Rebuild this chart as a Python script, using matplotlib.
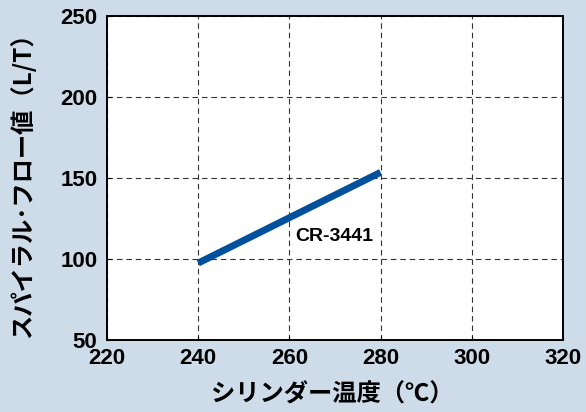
import matplotlib
matplotlib.use("Agg")
import matplotlib.pyplot as plt

# data
temps = [240, 280]
flow = [97.5, 153.5]
series_name = "CR-3441"
x_ticks = [220, 240, 260, 280, 300, 320]
y_ticks = [50, 100, 150, 200, 250]

BG = "#cedcea"
LINE = "#00509e"

plt.rcParams["font.family"] = ["Liberation Sans", "Noto Sans CJK JP", "DejaVu Sans"]

fig = plt.figure(figsize=(5.86, 4.12), dpi=100, facecolor=BG)
ax = fig.add_axes([107 / 586, 1 - 340 / 412, (563 - 107) / 586, (340 - 16) / 412])
ax.set_facecolor("white")

ax.plot(temps, flow, color=LINE, linewidth=5, solid_capstyle="butt", zorder=3)
ax.text(261.3, 114, series_name, fontsize=14, fontweight="bold", va="center", ha="left")

ax.set_xlim(220, 320)
ax.set_ylim(50, 250)
ax.set_xticks(x_ticks)
ax.set_yticks(y_ticks)
ax.set_xticklabels([str(t) for t in x_ticks], fontsize=16, fontweight="bold")
ax.set_yticklabels([str(t) for t in y_ticks], fontsize=16, fontweight="bold")
ax.tick_params(direction="in", length=3, width=0.8)
ax.tick_params(axis="x", pad=6)
ax.tick_params(axis="y", pad=7)
ax.grid(True, color="#333333", linestyle=(0, (5, 3.5)), linewidth=0.8)
for s in ax.spines.values():
    s.set_linewidth(1.4)
    s.set_color("black")

jp = ["Noto Sans CJK JP", "DejaVu Sans"]
fig.text(332 / 586, 1 - 395 / 412, "シリンダー温度（℃）", family=jp, fontsize=17.5,
         fontweight="bold", ha="center", va="center")
fig.text(22 / 586, 1 - 179 / 412, "スパイラル･フロー値（L/T）", family=jp, fontsize=17.5,
         fontweight="bold", ha="center", va="center", rotation=90)

fig.savefig("out.png", dpi=100, facecolor=BG)
